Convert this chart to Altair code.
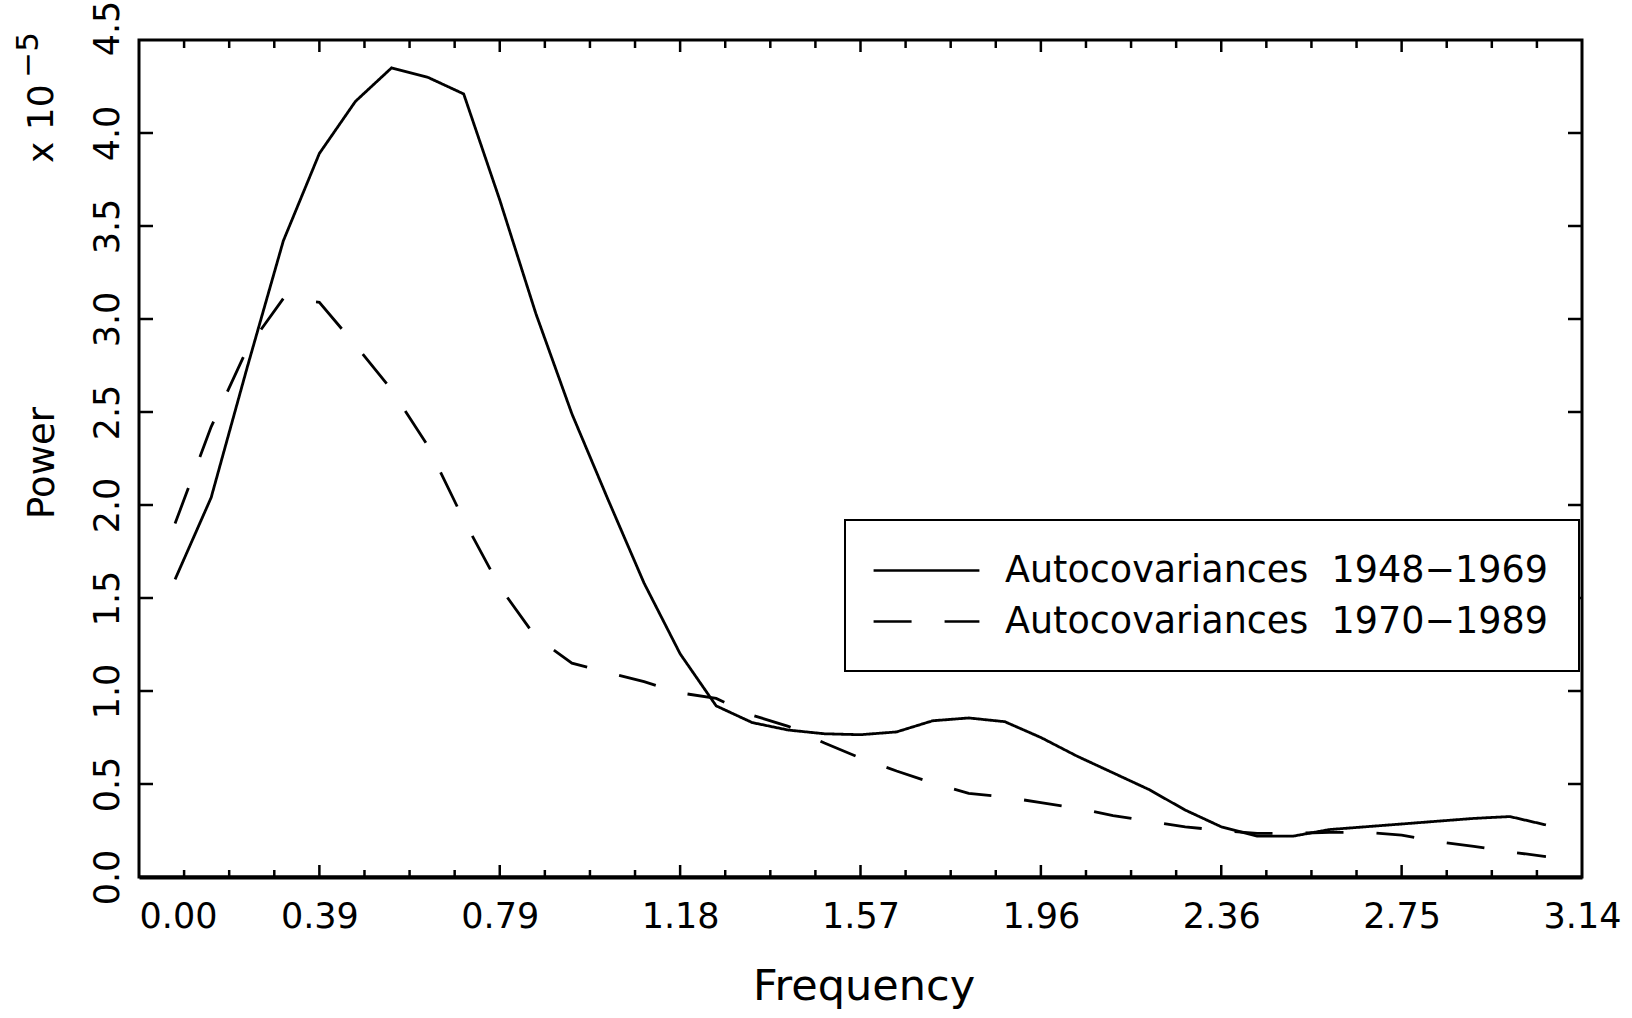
import math
import altair as alt
import pandas as pd

# ---------------- data ----------------
FREQ = [0.0785, 0.1571, 0.2356, 0.3142, 0.3927, 0.4712, 0.5498, 0.6283, 0.7069, 0.7854,
        0.8639, 0.9425, 1.0210, 1.0996, 1.1781, 1.2566, 1.3352, 1.4137, 1.4923, 1.5708,
        1.6493, 1.7279, 1.8064, 1.8850, 1.9635, 2.0420, 2.1206, 2.1991, 2.2777, 2.3562,
        2.4347, 2.5133, 2.5918, 2.6704, 2.7489, 2.8274, 2.9060, 2.9845, 3.0631]

POWER_1948_1969 = [1.60, 2.04, 2.74, 3.42, 3.89, 4.17, 4.35, 4.30, 4.21, 3.64,
                   3.03, 2.49, 2.03, 1.58, 1.20, 0.92, 0.83, 0.79, 0.77, 0.765,
                   0.78, 0.84, 0.855, 0.835, 0.75, 0.65, 0.56, 0.47, 0.36, 0.27,
                   0.22, 0.22, 0.255, 0.27, 0.285, 0.30, 0.315, 0.325, 0.28]

POWER_1970_1989 = [1.90, 2.42, 2.84, 3.11, 3.09, 2.86, 2.62, 2.32, 1.92, 1.56,
                   1.29, 1.15, 1.10, 1.05, 0.99, 0.96, 0.87, 0.81, 0.72, 0.64,
                   0.57, 0.505, 0.45, 0.43, 0.40, 0.37, 0.33, 0.30, 0.27, 0.25,
                   0.235, 0.235, 0.24, 0.24, 0.225, 0.19, 0.165, 0.135, 0.11]

SERIES = ["Autocovariances\u00a0 1948\u22121969", "Autocovariances\u00a0 1970\u22121989"]

X_TICK_LABELS = ["0.00", "0.39", "0.79", "1.18", "1.57", "1.96", "2.36", "2.75", "3.14"]
X_TICKS = [i * math.pi / 8 for i in range(9)]
X_MINOR = [j * math.pi / 32 for j in range(1, 32) if j % 4 != 0]
Y_TICKS = [0.0, 0.5, 1.0, 1.5, 2.0, 2.5, 3.0, 3.5, 4.0, 4.5]

SCALE_TEXT = ["x 10"]
SCALE_EXP = ["\u22125"]

# ---------------- layout ----------------
W, H = 1443, 837
FONT = "DejaVu Sans"

rows = []
for f, v in zip(FREQ, POWER_1948_1969):
    rows.append({"freq": f, "power": v, "series": SERIES[0]})
for f, v in zip(FREQ, POWER_1970_1989):
    rows.append({"freq": f, "power": v, "series": SERIES[1]})
df = pd.DataFrame(rows)

xscale = alt.Scale(domain=[0, math.pi], nice=False, zero=False)
yscale = alt.Scale(domain=[0, 4.5], nice=False, zero=True)

label_expr = "[" + ",".join("'%s'" % s for s in X_TICK_LABELS) + "][round(datum.value / (PI / 8))]"

x_axis = alt.Axis(
    values=X_TICKS,
    labelExpr=label_expr,
    labelOverlap=False,
    labelFlush=False,
    labelBound=False,
    labelAlign={"condition": {"test": "datum.value < 0.01", "value": "left"}, "value": "center"},
    labelBaseline="alphabetic",
    labelPadding=50,
    labelFontSize=35,
    ticks=False,
    tickSize=0,
    domain=True,
    domainColor="black",
    domainWidth=4,
    grid=False,
    title="Frequency",
    titleFontSize=43,
    titleBaseline="alphabetic",
    titleY=122,
    titleX=W / 2 + 3,
    titleAlign="center",
)

y_axis = alt.Axis(
    values=Y_TICKS,
    format=".1f",
    labelOverlap=False,
    labelFlush=False,
    labelBound=False,
    labelAngle=270,
    labelAlign="center",
    labelBaseline="alphabetic",
    labelPadding=21,
    labelFontSize=35,
    labelOffset={"condition": {"test": "datum.value > 4.49", "value": -12}, "value": 0},
    ticks=False,
    tickSize=0,
    domain=False,
    grid=False,
    title="Power",
    titleFontSize=37,
    titleAngle=270,
    titleBaseline="alphabetic",
    titleAlign="center",
    titleX=-86,
    titleY=H / 2 + 4,
)

legend = alt.Legend(
    title=None,
    orient="none",
    legendX=706,
    legendY=480,
    symbolType="M-2.94,0H2.94",
    symbolSize=1296,
    symbolStrokeWidth=2.6,
    symbolStrokeColor="black",
    symbolOffset=31,
    labelOffset=59,
    labelFontSize=36.5,
    labelFont=FONT,
    labelColor="black",
    labelLimit=1000,
    padding=31,
    rowPadding=13,
    strokeColor="black",
    fillColor="white",
)

lines = alt.Chart(df).mark_line(color="black", strokeWidth=2.8).encode(
    x=alt.X("freq:Q", scale=xscale, axis=x_axis),
    y=alt.Y("power:Q", scale=yscale, axis=y_axis),
    strokeDash=alt.StrokeDash(
        "series:N",
        scale=alt.Scale(domain=SERIES, range=[[1, 0], [38, 33]]),
        legend=legend,
    ),
)

# inward tick marks (positions through the scales)
df_xmaj = pd.DataFrame({"freq": X_TICKS[1:-1]})
df_xmin = pd.DataFrame({"freq": X_MINOR})
df_y = pd.DataFrame({"power": Y_TICKS[1:-1]})

def xrule(d, y0, y1):
    return alt.Chart(d).mark_rule(color="black", strokeWidth=2.5).encode(
        x=alt.X("freq:Q", scale=xscale), y=alt.value(y0), y2=alt.value(y1))

def yrule(x0, x1):
    return alt.Chart(df_y).mark_rule(color="black", strokeWidth=2.5).encode(
        y=alt.Y("power:Q", scale=yscale), x=alt.value(x0), x2=alt.value(x1))

ticks = [
    xrule(df_xmaj, H, H - 12), xrule(df_xmin, H, H - 7),
    xrule(df_xmaj, 0, 12), xrule(df_xmin, 0, 8),
    yrule(0, 14), yrule(W, W - 14),
]

# scale factor annotation (x 10^-5)
txt1 = alt.Chart(pd.DataFrame({"t": SCALE_TEXT, "power": [4.05]})).mark_text(
    angle=270, align="center", baseline="alphabetic", fontSize=36, font=FONT, color="black"
).encode(text="t:N", y=alt.Y("power:Q", scale=yscale), x=alt.value(-86))

txt2 = alt.Chart(pd.DataFrame({"t": SCALE_EXP, "power": [4.42]})).mark_text(
    angle=270, align="center", baseline="alphabetic", fontSize=31, font=FONT, color="black"
).encode(text="t:N", y=alt.Y("power:Q", scale=yscale), x=alt.value(-101))

chart = alt.layer(lines, *ticks, txt1, txt2).properties(
    width=W,
    height=H,
    autosize=alt.AutoSizeParams(type="none"),
    padding={"left": 139, "top": 40, "right": 50, "bottom": 141},
    background="white",
).configure_view(
    stroke="black", strokeWidth=3
).configure_axis(
    labelFont=FONT, titleFont=FONT, labelColor="black", titleColor="black",
    titleFontWeight="normal",
).configure_legend(
    strokeWidth=2
)

chart.save("out.html", embed_options={"renderer": "svg", "actions": False})
